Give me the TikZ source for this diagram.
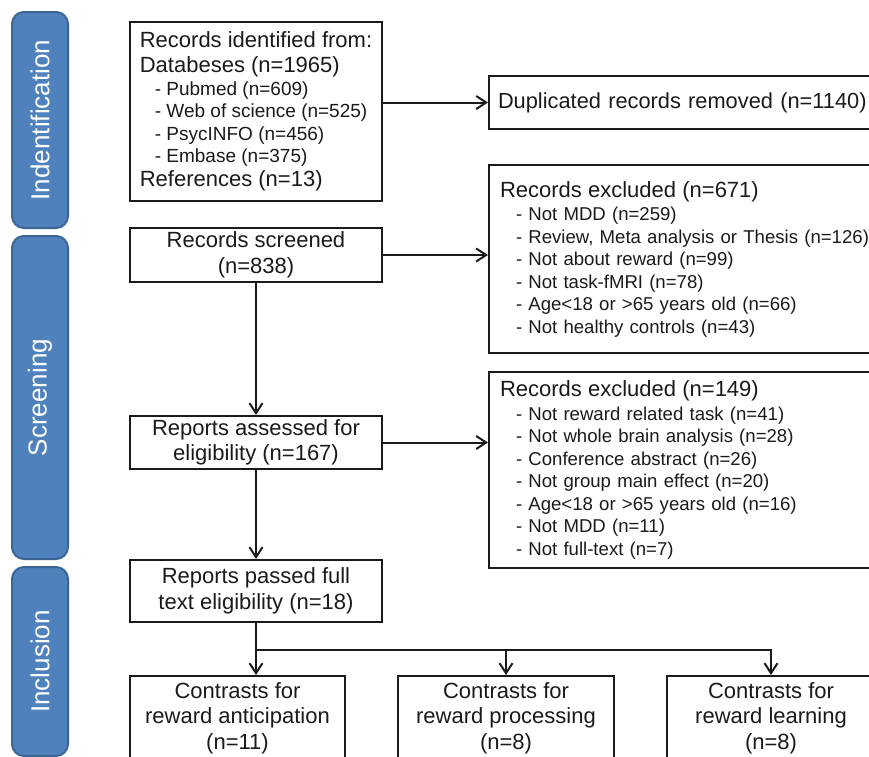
\documentclass[tikz,border=0pt]{standalone}
\usepackage{fontspec}
\setmainfont{Liberation Sans}
\usetikzlibrary{arrows.meta}

\newcommand\bigtxt{\fontsize{22}{25.5}\selectfont}
\newcommand\smalltxt{\fontsize{18.6}{22.5}\selectfont}
\newcommand\stagetxt{\fontsize{26}{30}\selectfont}
\definecolor{stageblue}{HTML}{4F81BD}
\definecolor{stageedge}{HTML}{3B6595}
\definecolor{boxline}{HTML}{1A1A1A}

\tikzset{
  stage/.style={draw=stageedge, fill=stageblue, line width=2pt, rounded corners=12pt,
    rotate=90, minimum height=56, text=white, font=\stagetxt, inner sep=0pt},
  box/.style={draw=boxline, line width=2pt, inner sep=0pt, align=center,
    text=boxline, font=\bigtxt},
  note/.style={draw=boxline, line width=2pt, inner xsep=11pt, inner ysep=0pt, anchor=west,
    text width=420pt, align=left, text=boxline, font=\smalltxt},
  flow/.style={draw=boxline, line width=2pt, ->},
}

\begin{document}
\begin{tikzpicture}[x=1pt, y=-1pt, >={Straight Barb[length=10pt,width=13pt]}]
    \useasboundingbox (0,0) rectangle (869,756);
    \clip (0,0) rectangle (869,756);

    \node[stage, minimum width=216] (identbar) at (40,120) {Indentification};
    \node[stage, minimum width=323] (screenbar) at (40,397.5) {Screening};
    \node[stage, minimum width=189] (inclbar) at (40,661.5) {Inclusion};

    \node[box, minimum width=252, minimum height=179, align=left, font=\fontsize{19}{22.5}\selectfont] (ident) at (256,111.5)
        {{\bigtxt Records identified from:}\\[3pt]
         {\bigtxt Databeses (n=1965)}\\
         \hspace*{15pt}- Pubmed (n=609)\\
         \hspace*{15pt}- Web of science (n=525)\\
         \hspace*{15pt}- PsycINFO (n=456)\\
         \hspace*{15pt}- Embase (n=375)\\[1.5pt]
         {\bigtxt References (n=13)}};
    \node[note, minimum height=53, inner xsep=9pt, font=\fontsize{21.8}{25}\selectfont] (dup) at (488,102.5)
        {Duplicated records removed (n=1140)};

    \node[box, minimum width=252, minimum height=54] (screen) at (256,255)
        {Records screened\\(n=838)};
    \node[note, minimum height=188] (excl1) at (488,259)
        {{\bigtxt Records excluded (n=671)}\\[1pt]
         \hspace*{16pt}- Not MDD (n=259)\\
         \hspace*{16pt}- Review, Meta analysis or Thesis (n=126)\\
         \hspace*{16pt}- Not about reward (n=99)\\
         \hspace*{16pt}- Not task-fMRI (n=78)\\
         \hspace*{16pt}- Age<18 or >65 years old (n=66)\\
         \hspace*{16pt}- Not healthy controls (n=43)};

    \node[box, minimum width=252, minimum height=53] (assess) at (256,442.5)
        {Reports assessed for\\eligibility (n=167)};
    \node[note, minimum height=196] (excl2) at (488,470)
        {{\bigtxt Records excluded (n=149)}\\[1pt]
         \hspace*{16pt}- Not reward related task (n=41)\\
         \hspace*{16pt}- Not whole brain analysis (n=28)\\
         \hspace*{16pt}- Conference abstract (n=26)\\
         \hspace*{16pt}- Not group main effect (n=20)\\
         \hspace*{16pt}- Age<18 or >65 years old (n=16)\\
         \hspace*{16pt}- Not MDD (n=11)\\
         \hspace*{16pt}- Not full-text (n=7)};

    \node[box, minimum width=252, minimum height=62] (passed) at (256,591)
        {Reports passed full\\text eligibility (n=18)};

    \node[box, minimum width=215, minimum height=84] (anticip) at (237.5,718)
        {Contrasts for\\reward anticipation\\(n=11)};
    \node[box, minimum width=216, minimum height=84] (process) at (506,718)
        {Contrasts for\\reward processing\\(n=8)};
    \node[box, minimum width=208, minimum height=84] (learn) at (771,718)
        {Contrasts for\\reward learning\\(n=8)};

    \draw[flow] (ident.east |- dup.west) -- (dup.west);
    \draw[flow] (screen.east) -- (screen.east -| excl1.west);
    \draw[flow] (screen) -- (assess);
    \draw[flow] (assess.east) -- (assess.east -| excl2.west);
    \draw[flow] (assess) -- (passed);
    \path (passed.south) ++(0,27) coordinate (split);
    \draw[boxline, line width=2pt] (passed.south) -- (split);
    \draw[flow] (split) -- (split |- anticip.north);
    \draw[flow] (split) -| (process.north);
    \draw[flow] (split) -| (learn.north);
\end{tikzpicture}
\end{document}
